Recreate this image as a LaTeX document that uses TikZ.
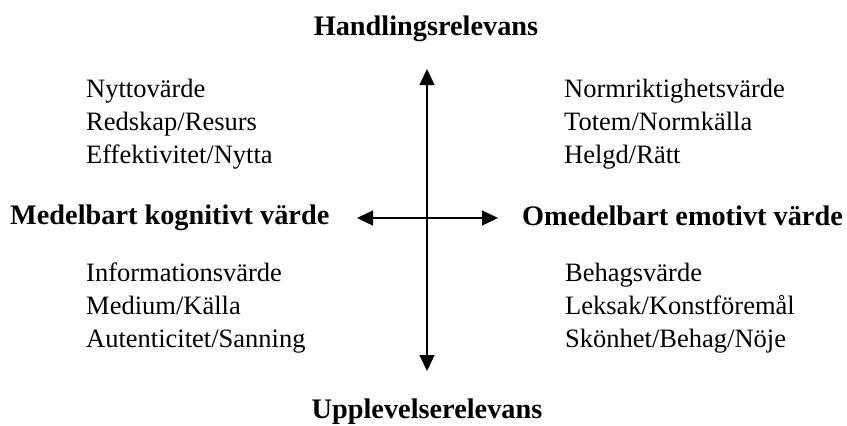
\documentclass[tikz,border=0pt]{standalone}
\usepackage{fontspec}
\setmainfont{Liberation Serif}
\usetikzlibrary{arrows.meta}
\begin{document}
\begin{tikzpicture}[x=1pt,y=-1pt,
  lbl/.style={anchor=base west,inner sep=0pt,font=\fontsize{26.5}{30}\selectfont},
  head/.style={inner sep=0pt,font=\fontsize{28.3}{32}\selectfont\bfseries},
  axis/.style={line width=1.3pt,-{Triangle[width=15pt,length=16pt]}}]
\useasboundingbox (0,0) rectangle (847,426);
\coordinate (c) at (427,218);
\coordinate (top) at (427,69);
\coordinate (bot) at (427,371);
\coordinate (lft) at (357,218);
\coordinate (rgt) at (498,218);
\draw[axis] (c) -- (top);
\draw[axis] (c) -- (bot);
\draw[axis] (c) -- (lft);
\draw[axis] (c) -- (rgt);
\node[head,anchor=base] (h1) at (426,35) {Handlingsrelevans};
\node[head,anchor=base] (h2) at (427,418) {Upplevelserelevans};
\node[head,anchor=base west] (h3) at (10,224) {Medelbart kognitivt värde};
\node[head,anchor=base east] (h4) at (843,225) {Omedelbart emotivt värde};
\node[lbl] (a1) at (86,97) {Nyttovärde};
\node[lbl] (a2) at (86,130) {Redskap/Resurs};
\node[lbl] (a3) at (86,163) {Effektivitet/Nytta};
\node[lbl] (b1) at (564,97) {Normriktighetsvärde};
\node[lbl] (b2) at (564,130) {Totem/Normkälla};
\node[lbl] (b3) at (564,163) {Helgd/Rätt};
\node[lbl] (c1) at (86,281) {Informationsvärde};
\node[lbl] (c2) at (86,314) {Medium/Källa};
\node[lbl] (c3) at (86,347) {Autenticitet/Sanning};
\node[lbl] (d1) at (565,281) {Behagsvärde};
\node[lbl] (d2) at (565,314) {Leksak/Konstföremål};
\node[lbl] (d3) at (565,347) {Skönhet/Behag/Nöje};
\end{tikzpicture}
\end{document}
